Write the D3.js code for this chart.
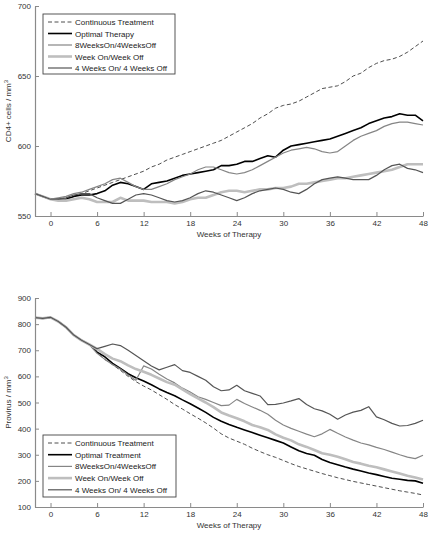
<!DOCTYPE html>
<html><head><meta charset="utf-8">
<script src="https://cdn.jsdelivr.net/npm/d3@7"></script>
<style>
body{margin:0;background:#fff;}
text{font-family:"Liberation Sans",Arial,sans-serif;}
</style></head>
<body><svg id="chart" width="430" height="534"></svg>
<script>
// ---- data ----
const weeks = [-2,-1,0,1,2,3,4,5,6,7,8,9,10,11,12,13,14,15,16,17,18,19,20,21,22,23,24,25,26,27,28,29,30,31,32,33,34,35,36,37,38,39,40,41,42,43,44,45,46,47,48];
const xTicks = [0,6,12,18,24,30,36,42,48];

const cd4Continuous = [566,564,562,562,563,564,566,568,570,572,574,576,578,580,582,585,587,590,592,594,596,598,600,602,604,607,610,613,616,620,623,627,629,630,632,635,638,641,642,643,646,650,652,656,659,661,662,664,667,671,675];
const cd4Optimal = [566,564,562,562,562,564,565,565,566,568,572,574,573,571,569,573,574,575,577,579,580,581,582,583,586,586,587,589,589,591,593,592,597,600,601,602,603,604,605,607,609,611,613,616,618,620,621,623,622,622,618];
const cd4EightFour = [566,564,562,563,564,566,567,569,571,573,576,577,574,571,569,569,571,573,576,578,580,583,585,585,583,581,580,581,583,586,589,592,595,597,598,599,598,596,595,596,600,604,607,609,611,614,616,617,617,616,615];
const cd4WeekOn = [566,564,562,561,561,562,563,562,560,560,560,563,561,561,561,560,560,560,559,560,562,563,563,565,567,568,568,567,568,569,569,570,570,571,573,573,574,575,576,577,577,578,579,580,581,582,583,585,587,587,587];
const cd4FourFour = [566,564,562,562,563,565,566,566,563,561,559,559,562,565,566,565,563,561,560,561,563,566,568,567,565,563,561,563,566,568,569,570,569,567,566,569,573,576,577,578,577,576,576,576,579,583,586,587,584,583,581];
const cd4Ticks = [550,600,650,700];

const provContinuous = [825,822,826,810,788,758,738,722,690,665,645,623,600,580,563,548,530,512,492,475,457,440,422,402,380,364,352,340,325,312,300,290,278,266,255,246,237,228,220,212,205,198,192,186,180,174,168,162,157,152,146];
const provOptimal = [825,822,826,810,788,758,738,722,693,675,650,630,610,595,582,568,552,538,526,510,495,479,462,443,428,416,405,395,385,375,365,355,345,330,315,305,298,282,270,262,253,245,238,230,224,217,210,206,202,200,191];
const provEightFour = [825,822,826,810,788,758,738,722,688,665,645,628,605,585,640,628,608,590,575,555,540,522,512,500,488,490,512,496,483,470,455,432,414,401,390,379,369,380,397,382,368,356,345,338,328,320,310,300,291,285,298];
const provWeekOn = [825,822,826,810,788,758,738,722,705,685,668,658,642,628,618,606,592,578,568,550,532,516,500,482,462,450,440,428,414,405,395,378,365,355,340,330,318,306,300,292,283,272,266,258,252,244,236,228,220,213,205];
const provFourFour = [825,822,826,810,788,758,738,722,706,715,724,718,700,680,660,640,625,635,645,622,615,600,585,560,545,548,566,545,535,525,492,493,498,506,515,492,476,468,455,436,452,463,470,484,445,434,420,410,412,420,432];
const provTicks = [100,200,300,400,500,600,700,800,900];

const namesTop = ["Continuous Treatment","Optimal Therapy","8WeeksOn/4WeeksOff","Week On/Week Off","4 Weeks On/ 4 Weeks Off"];
const namesBottom = ["Continuous Treatment","Optimal Treatment","8WeeksOn/4WeeksOff","Week On/Week Off","4 Weeks On/ 4 Weeks Off"];

// ---- styles ----
const styles = [
  {color:"#3a3a3a", width:0.9, dash:"4,2.5"},
  {color:"#000000", width:1.6, dash:null},
  {color:"#858585", width:1.2, dash:null},
  {color:"#bebebe", width:2.6, dash:null},
  {color:"#555555", width:1.2, dash:null}
];

const svg = d3.select("#chart");
const axisColor = "#8a8a8a";

function panel(o){
  const x = d3.scaleLinear().domain([-2,48]).range([35,423]);
  const y = d3.scaleLinear().domain(o.domain).range([o.bottom,o.top]);
  const g = svg.append("g");

  // lines
  const line = d3.line().x((d,i)=>x(weeks[i])).y(d=>y(d)).curve(d3.curveLinear);
  o.series.forEach((s,k)=>{
    const st = styles[k];
    g.append("path").attr("d",line(s)).attr("fill","none")
      .attr("stroke",st.color).attr("stroke-width",st.width)
      .attr("stroke-linejoin","round")
      .attr("stroke-dasharray",st.dash);
  });

  // axes
  const xa = g.append("g").attr("transform",`translate(0,${o.bottom})`)
    .call(d3.axisBottom(x).tickValues(xTicks).tickSizeInner(-4).tickSizeOuter(0).tickPadding(4));
  const ya = g.append("g").attr("transform",`translate(35,0)`)
    .call(d3.axisLeft(y).tickValues(o.ticks).tickSizeInner(-4).tickSizeOuter(0).tickPadding(4));
  [xa,ya].forEach(a=>{
    a.select(".domain").attr("stroke",axisColor).attr("stroke-width",1.2);
    a.selectAll(".tick line").attr("stroke",axisColor).attr("stroke-width",1);
    a.selectAll(".tick text").attr("fill","#333").style("font-size","8px")
      .style("font-family",'"Liberation Sans",Arial,sans-serif');
  });

  // axis titles
  g.append("text").attr("x",229).attr("y",o.bottom+21).attr("text-anchor","middle")
    .attr("fill","#333").style("font-size","8px").text("Weeks of Therapy");
  const yl = g.append("text").attr("transform",`translate(11,${(o.top+o.bottom)/2}) rotate(-90)`)
    .attr("text-anchor","middle").attr("fill","#333").style("font-size","8px");
  yl.append("tspan").text(o.ylabel);
  yl.append("tspan").attr("dy",-3).style("font-size","6px").text("3");

  // legend
  const L = o.legend;
  g.append("rect").attr("x",L.x).attr("y",L.y).attr("width",L.w).attr("height",L.h)
    .attr("fill","#fff").attr("stroke","#444").attr("stroke-width",0.9);
  o.names.forEach((nm,k)=>{
    const st = styles[k];
    const yy = L.y + 8 + k*L.step;
    g.append("line").attr("x1",L.x+5).attr("x2",L.x+29).attr("y1",yy).attr("y2",yy)
      .attr("stroke",st.color).attr("stroke-width",st.width).attr("stroke-dasharray",st.dash);
    g.append("text").attr("x",L.x+32).attr("y",yy+3).attr("fill","#222")
      .style("font-size","8px").text(nm);
  });
}

panel({domain:[550,700], top:6, bottom:216, ticks:cd4Ticks,
  series:[cd4Continuous,cd4Optimal,cd4EightFour,cd4WeekOn,cd4FourFour],
  names:namesTop, ylabel:"CD4+ cells / mm",
  legend:{x:43,y:14,w:132,h:60,step:11.5}});

panel({domain:[100,900], top:298, bottom:507, ticks:provTicks,
  series:[provContinuous,provOptimal,provEightFour,provWeekOn,provFourFour],
  names:namesBottom, ylabel:"Provirus / mm",
  legend:{x:43,y:435,w:133,h:62,step:11.7}});
</script></body></html>
